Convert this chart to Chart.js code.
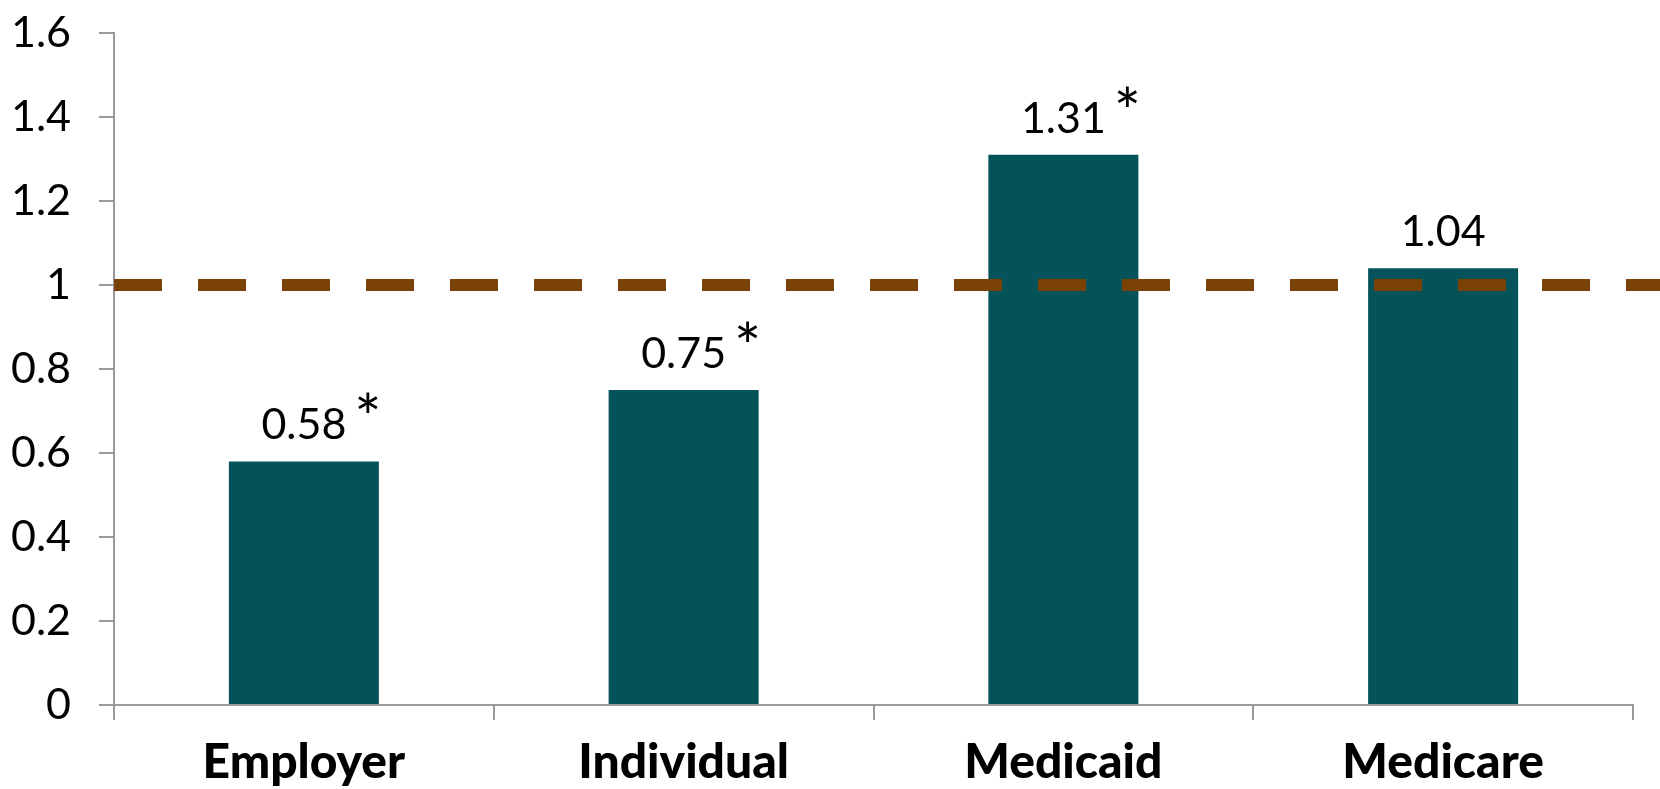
<!DOCTYPE html>
<html><head><meta charset="utf-8">
<script src="https://cdn.jsdelivr.net/npm/chart.js@4"></script>
<style>html,body{margin:0;padding:0;background:#fff;}canvas{display:block;}</style>
</head><body>
<canvas id="c" width="1660" height="789"></canvas>
<script>
const categories = ["Employer", "Individual", "Medicaid", "Medicare"];
const ratios = [0.58, 0.75, 1.31, 1.04];
const significant = [true, true, true, false];
const referenceValue = 1;
const yTicks = [0, 0.2, 0.4, 0.6, 0.8, 1, 1.2, 1.4, 1.6];
const yTickLabels = ["0", "0.2", "0.4", "0.6", "0.8", "1", "1.2", "1.4", "1.6"];

const BAR = '#04525a';
const AXIS = '#999999';
const REF = '#7a4106';
const FONT = 'Lato';

const refLinePlugin = {
  id: 'refLine',
  afterDatasetsDraw(chart) {
    const ctx = chart.ctx, y = chart.scales.y, a = chart.chartArea;
    const py = y.getPixelForValue(referenceValue);
    ctx.save();
    ctx.strokeStyle = REF;
    ctx.lineWidth = 12;
    ctx.setLineDash([48, 36]);
    ctx.beginPath();
    ctx.moveTo(a.left, py);
    ctx.lineTo(chart.width, py);
    ctx.stroke();
    ctx.restore();
  }
};

const labelPlugin = {
  id: 'valueLabels',
  afterDatasetsDraw(chart) {
    const ctx = chart.ctx;
    const meta = chart.getDatasetMeta(0);
    ctx.save();
    ctx.fillStyle = '#000';
    ctx.textBaseline = 'alphabetic';
    meta.data.forEach((bar, i) => {
      const txt = ratios[i].toFixed(2);
      const baseY = bar.y - 22;
      ctx.font = `43px ${FONT}`;
      ctx.textAlign = 'center';
      ctx.fillText(txt, bar.x, baseY);
      if (significant[i]) {
        const w = ctx.measureText(txt).width;
        ctx.font = `64px ${FONT}`;
        ctx.textAlign = 'left';
        ctx.fillText('*', bar.x + w / 2 + 8, baseY + 2);
      }
    });
    ctx.restore();
  }
};

new Chart(document.getElementById('c'), {
  type: 'bar',
  data: {
    labels: categories,
    datasets: [{
      data: ratios,
      backgroundColor: BAR,
      borderWidth: 0,
      barPercentage: 0.395,
      categoryPercentage: 1
    }]
  },
  options: {
    responsive: false,
    animation: false,
    events: [],
    layout: { padding: { top: 33, right: 27, left: 0, bottom: 0 } },
    plugins: { legend: { display: false }, tooltip: { enabled: false } },
    scales: {
      x: {
        grid: { drawOnChartArea: false, offset: true, tickLength: 15, color: AXIS, lineWidth: 2 },
        border: { color: AXIS, width: 2 },
        ticks: { color: '#000', font: { family: FONT, size: 48, weight: '900' }, padding: 14, maxRotation: 0 },
        afterFit(s) { s.height = 84; s.paddingLeft = 0; s.paddingRight = 0; }
      },
      y: {
        min: 0, max: 1.6,
        grid: { drawOnChartArea: false, tickLength: 15, color: AXIS, lineWidth: 2 },
        border: { color: AXIS, width: 2 },
        ticks: {
          color: '#000', font: { family: FONT, size: 43 }, padding: 28,
          callback: (v, i) => yTickLabels[i]
        },
        afterBuildTicks(s) { s.ticks = yTicks.map(v => ({ value: v })); },
        afterFit(s) { s.width = 114; s.paddingTop = 0; s.paddingBottom = 0; }
      }
    }
  },
  plugins: [refLinePlugin, labelPlugin]
});
</script>
</body></html>
